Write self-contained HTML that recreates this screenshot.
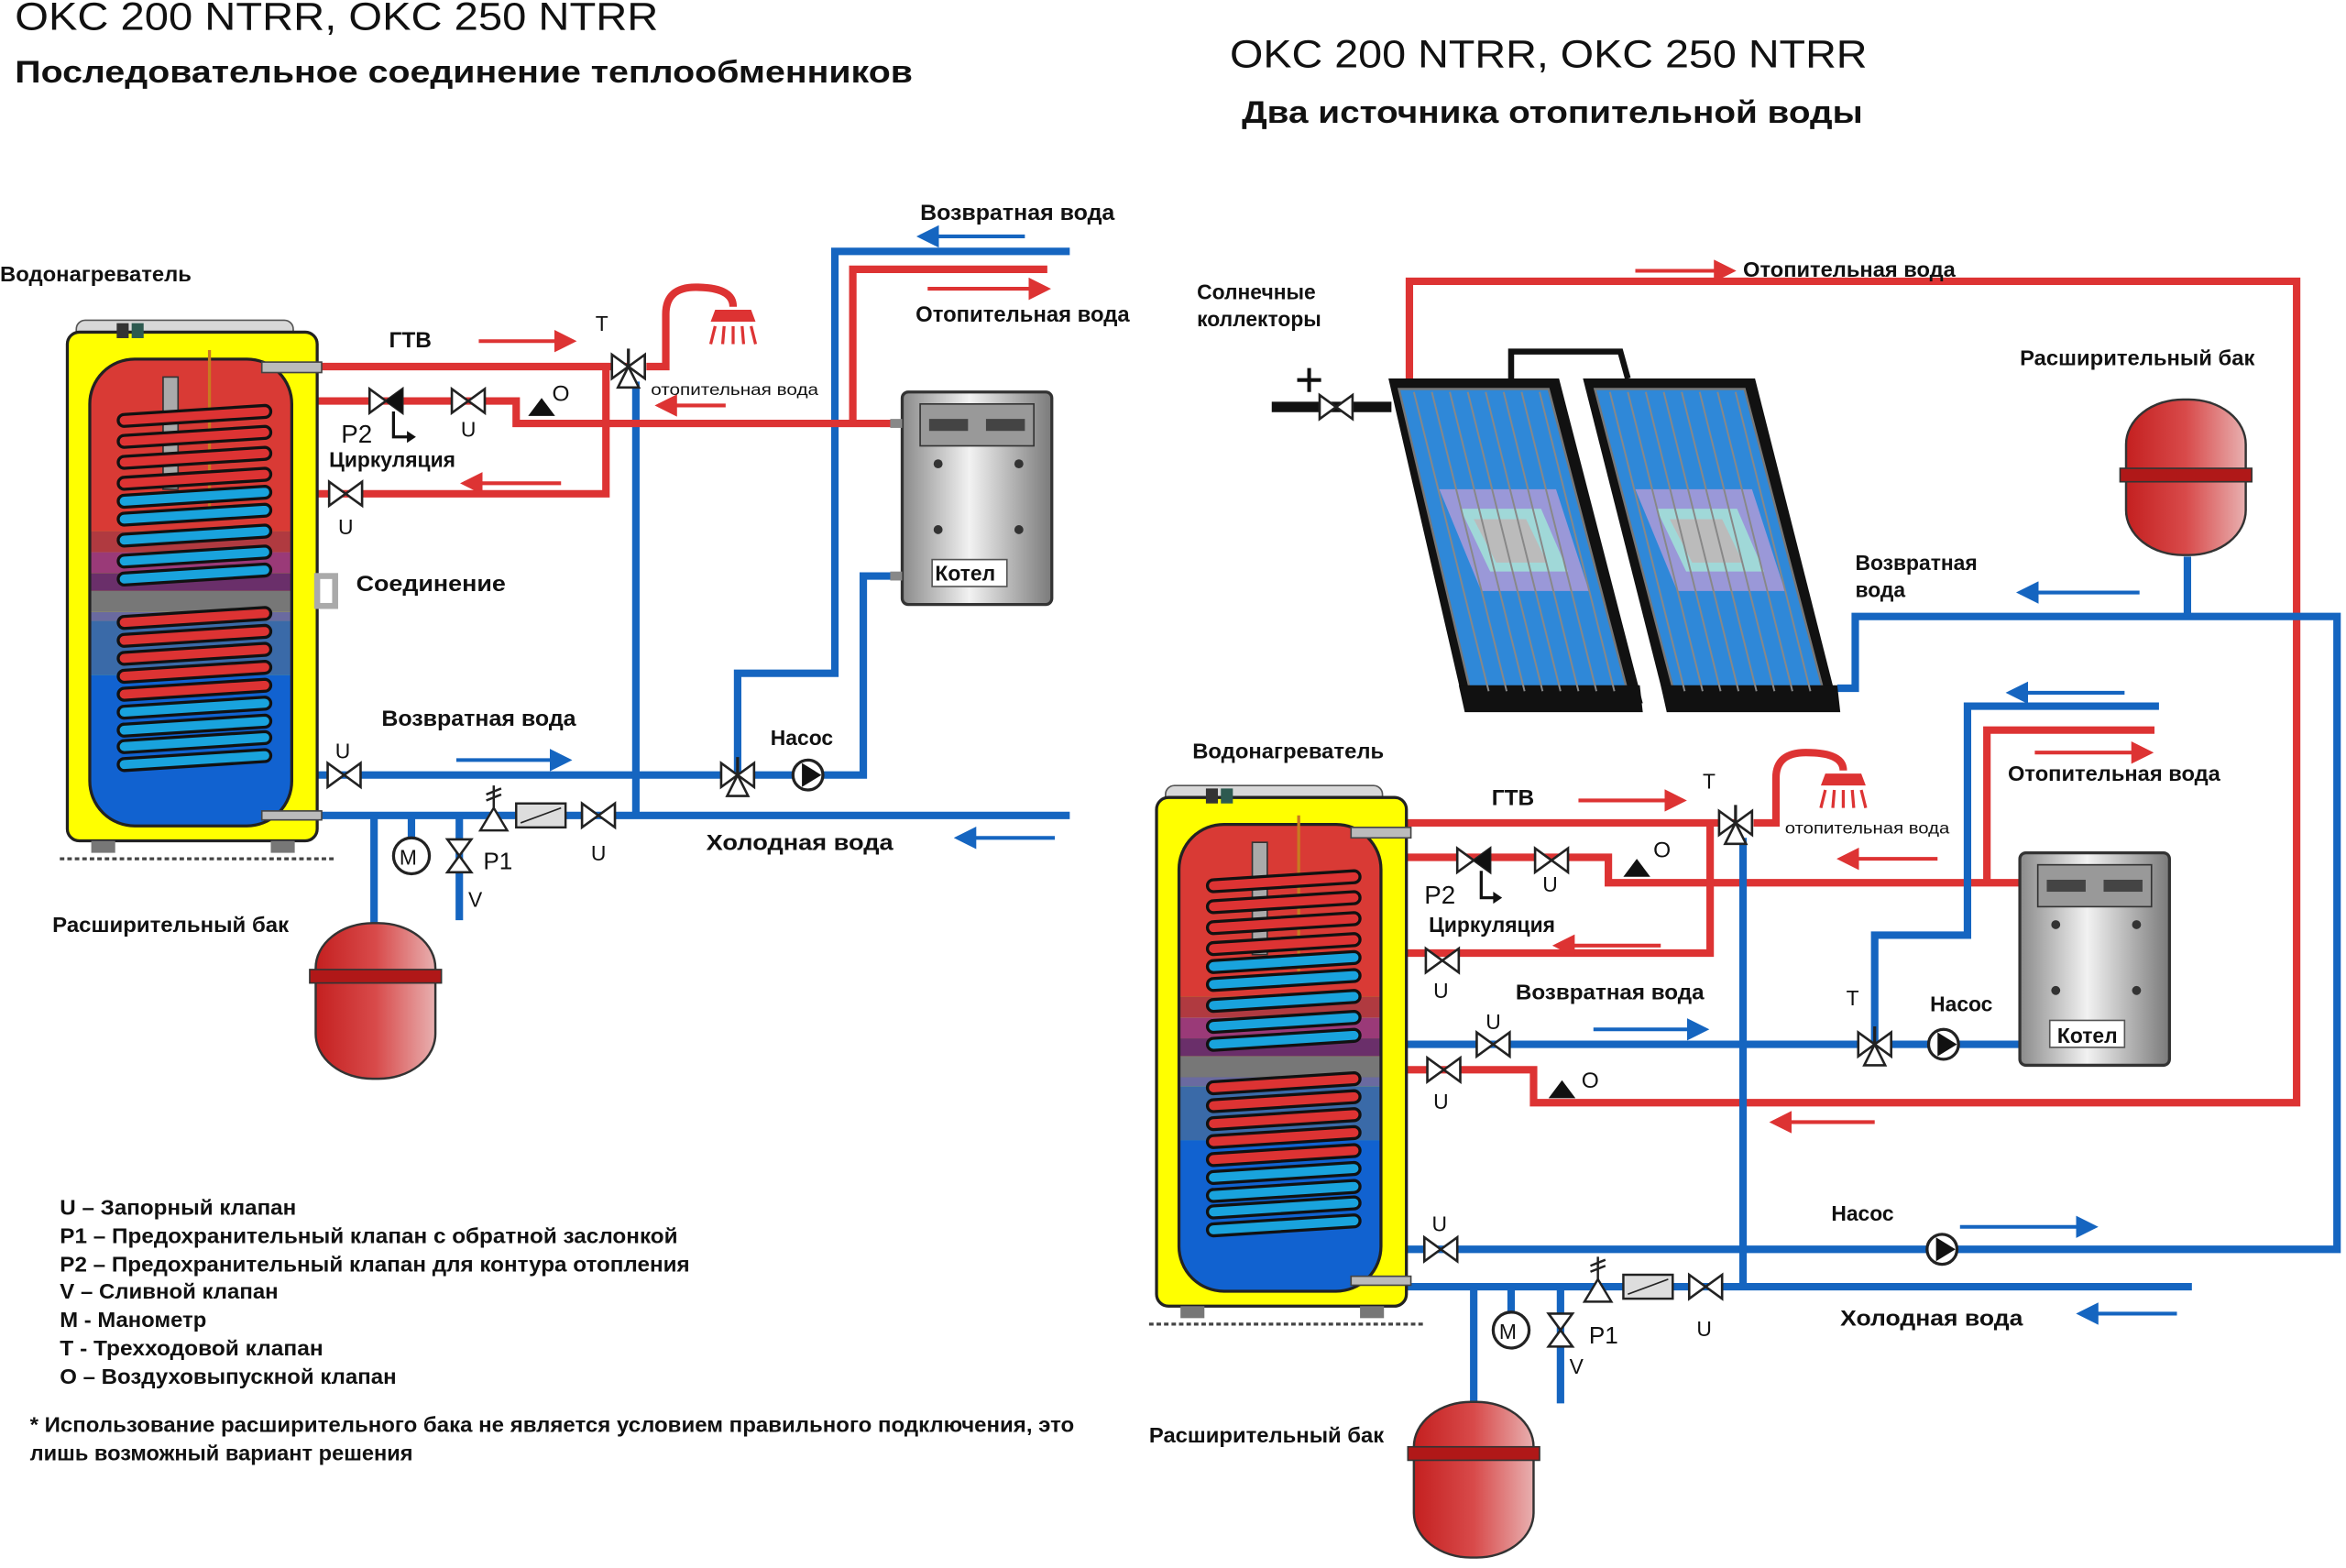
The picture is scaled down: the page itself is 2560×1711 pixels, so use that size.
<!DOCTYPE html>
<html><head><meta charset="utf-8"><style>
html,body{margin:0;padding:0;background:#fff;}
svg{display:block;}
text{font-family:"Liberation Sans",Arial,sans-serif;fill:#111;}
.b{font-weight:bold;}
</style></head><body>
<svg width="2560" height="1711" viewBox="0 0 1568 1048" preserveAspectRatio="none" xmlns="http://www.w3.org/2000/svg">
<defs>
<linearGradient id="gBoil" x1="0" x2="1"><stop offset="0" stop-color="#8a8a8a"/><stop offset="0.45" stop-color="#f2f2f2"/><stop offset="1" stop-color="#7a7a7a"/></linearGradient>
<linearGradient id="gExp" x1="0" x2="1"><stop offset="0" stop-color="#c42020"/><stop offset="0.5" stop-color="#d84a4a"/><stop offset="1" stop-color="#e8b0b0"/></linearGradient>
<clipPath id="innerClip"><rect x="15" y="18" width="135" height="312" rx="30"/></clipPath>
<path id="coilR" d="M38,0 L132,-6 a4,4 0 0 1 0,8 L38,8 a4,4 0 0 1 0,-8z" fill="#dd3333" stroke="#111" stroke-width="2"/>
<path id="coilB" d="M38,0 L132,-6 a4,4 0 0 1 0,8 L38,8 a4,4 0 0 1 0,-8z" fill="#19a3dd" stroke="#111" stroke-width="2"/>
<g id="tank">
 <rect x="6" y="-8" width="145" height="16" rx="6" fill="#d8d8d8" stroke="#555" stroke-width="1"/>
 <rect x="0" y="0" width="167" height="340" rx="8" fill="#ffff00" stroke="#222" stroke-width="2"/>
 <g clip-path="url(#innerClip)">
  <rect x="15" y="18" width="135" height="115" fill="#d93a35"/>
  <rect x="15" y="133" width="135" height="14" fill="#b03a40"/>
  <rect x="15" y="147" width="135" height="14" fill="#9a3a78"/>
  <rect x="15" y="161" width="135" height="12" fill="#6a2f6a"/>
  <rect x="15" y="173" width="135" height="14" fill="#777"/>
  <rect x="15" y="187" width="135" height="6" fill="#6a6aa0"/>
  <rect x="15" y="193" width="135" height="36" fill="#3a6aa8"/>
  <rect x="15" y="229" width="135" height="101" fill="#1162d0"/>
 </g>
 <rect x="15" y="18" width="135" height="312" rx="30" fill="none" stroke="#222" stroke-width="2"/>
 <rect x="64" y="30" width="10" height="75" fill="#aaa" stroke="#333"/>
 <line x1="95" y1="12" x2="95" y2="120" stroke="#c87a20" stroke-width="2"/>
 <rect x="33" y="-6" width="8" height="10" fill="#333"/><rect x="43" y="-6" width="8" height="10" fill="#2d5a50"/>
 <use href="#coilR" y="55"/><use href="#coilR" y="69"/><use href="#coilR" y="83"/><use href="#coilR" y="97"/>
 <use href="#coilB" y="109"/><use href="#coilB" y="121"/><use href="#coilB" y="135"/><use href="#coilB" y="149"/><use href="#coilB" y="161"/>
 <use href="#coilR" y="190"/><use href="#coilR" y="202"/><use href="#coilR" y="214"/><use href="#coilR" y="226"/><use href="#coilR" y="238"/>
 <use href="#coilB" y="250"/><use href="#coilB" y="262"/><use href="#coilB" y="273"/><use href="#coilB" y="285"/>
 <rect x="130" y="20" width="40" height="7" fill="#bbb" stroke="#444"/>
 <rect x="130" y="320" width="40" height="6" fill="#bbb" stroke="#444"/>
 <rect x="16" y="340" width="16" height="8" fill="#777"/><rect x="136" y="340" width="16" height="8" fill="#777"/>
 <line x1="-5" y1="352" x2="180" y2="352" stroke="#444" stroke-width="2" stroke-dasharray="3,2"/>
</g>
<g id="bow"><path d="M-11,-8 L11,8 L11,-8 L-11,8 Z" fill="#fff" stroke="#222" stroke-width="1.6"/></g>
<g id="bowV"><path d="M-8,-11 L8,11 L-8,11 L8,-11 Z" fill="#fff" stroke="#222" stroke-width="1.6"/></g>
<g id="pump"><circle r="10" fill="#fff" stroke="#222" stroke-width="2"/><path d="M-4,-8 L9,0 L-4,8Z" fill="#111"/></g>
<g id="valve3"><use href="#bow"/><path d="M0,0 L-7,14 L7,14Z" fill="#fff" stroke="#222" stroke-width="1.6"/><line x1="0" y1="0" x2="0" y2="-12" stroke="#222" stroke-width="2"/></g>
<g id="boiler">
 <rect x="0" y="0" width="100" height="142" rx="4" fill="url(#gBoil)" stroke="#333" stroke-width="2"/>
 <rect x="12" y="8" width="76" height="28" fill="#999" stroke="#333"/>
 <rect x="18" y="18" width="26" height="8" fill="#444"/><rect x="56" y="18" width="26" height="8" fill="#444"/>
 <circle cx="24" cy="48" r="3" fill="#333"/><circle cx="78" cy="48" r="3" fill="#333"/>
 <circle cx="24" cy="92" r="3" fill="#333"/><circle cx="78" cy="92" r="3" fill="#333"/>
 <rect x="20" y="112" width="50" height="18" fill="#fff" stroke="#555"/>
</g>
<g id="expBody">
 <rect x="0" y="0" width="80" height="104" rx="38" ry="30" fill="url(#gExp)" stroke="#333" stroke-width="1.5"/>
</g>
<g id="shower"><path d="M-15,0 L15,0 L12,-8 L-12,-8Z" fill="#dd3333"/><g stroke="#dd3333" stroke-width="2"><line x1="-12" y1="3" x2="-15" y2="15"/><line x1="-6" y1="3" x2="-7" y2="15"/><line x1="0" y1="3" x2="0" y2="15"/><line x1="6" y1="3" x2="7" y2="15"/><line x1="12" y1="3" x2="15" y2="15"/></g></g>
<marker id="aR" markerWidth="6" markerHeight="6" refX="5" refY="3" orient="auto"><path d="M0,0 L6,3 L0,6Z" fill="#dd3333"/></marker>
<marker id="aB" markerWidth="6" markerHeight="6" refX="5" refY="3" orient="auto"><path d="M0,0 L6,3 L0,6Z" fill="#1565c0"/></marker>
</defs>

<!-- ========== LEFT ========== -->
<text x="10" y="20" font-size="26" fill="#333" textLength="430" lengthAdjust="spacingAndGlyphs">OKC 200 NTRR, OKC 250 NTRR</text>
<text x="10" y="55" font-size="21" class="b" textLength="600" lengthAdjust="spacingAndGlyphs">Последовательное соединение теплообменников</text>
<text x="0" y="188" font-size="14" class="b" textLength="128" lengthAdjust="spacingAndGlyphs">Водонагреватель</text>

<g fill="none" stroke-linejoin="miter">
<g stroke="#1565c0" stroke-width="5">
 <path d="M715,168 L558,168 L558,450 L493,450 L493,518"/>
 <path d="M600,385 L577,385 L577,518 L212,518"/>
 <path d="M425,255 L425,545"/>
 <path d="M212,545 L715,545"/>
 <path d="M250,545 L250,620"/>
 <path d="M275,545 L275,560"/>
 <path d="M307,545 L307,615"/>
</g>
<g stroke="#dd3333" stroke-width="5">
 <path d="M212,245 L420,245"/>
 <path d="M432,245 L445,245 L445,210 Q445,192 465,192 Q490,192 490,205"/>
 <path d="M212,268 L345,268 L345,283 L600,283"/>
 <path d="M405,245 L405,330 L212,330"/>
 <path d="M570,283 L570,180 L700,180"/>
</g>
<g stroke-width="2.5">
 <line x1="320" y1="228" x2="383" y2="228" stroke="#dd3333" marker-end="url(#aR)"/>
 <line x1="375" y1="323" x2="310" y2="323" stroke="#dd3333" marker-end="url(#aR)"/>
 <line x1="485" y1="271" x2="440" y2="271" stroke="#dd3333" marker-end="url(#aR)"/>
 <line x1="620" y1="193" x2="700" y2="193" stroke="#dd3333" marker-end="url(#aR)"/>
 <line x1="685" y1="158" x2="615" y2="158" stroke="#1565c0" marker-end="url(#aB)"/>
 <line x1="305" y1="508" x2="380" y2="508" stroke="#1565c0" marker-end="url(#aB)"/>
 <line x1="705" y1="560" x2="640" y2="560" stroke="#1565c0" marker-end="url(#aB)"/>
</g>
</g>
<use href="#tank" x="45" y="222"/>
<rect x="212" y="385" width="12" height="20" fill="none" stroke="#aaa" stroke-width="4"/>
<use href="#shower" x="490" y="215"/>
<use href="#valve3" x="420" y="245"/>
<g transform="translate(258,268)"><path d="M-11,-8 L11,8 L11,-8 L-11,8 Z" fill="#fff" stroke="#222" stroke-width="1.6"/><path d="M0,0 L11,-8 L11,8Z" fill="#111"/></g>
<path d="M263,275 L263,292 L274,292" stroke="#111" stroke-width="2" fill="none"/><path d="M272,288 L278,292 L272,296Z" fill="#111"/>
<use href="#bow" x="313" y="268"/>
<path d="M353,278 L362,266 L371,278Z" fill="#111"/>
<use href="#bow" x="231" y="330"/>
<use href="#bow" x="230" y="518"/>
<use href="#valve3" x="493" y="518"/>
<use href="#pump" x="540" y="518"/>
<path d="M321,555 L330,540 L339,555Z" fill="#fff" stroke="#222" stroke-width="1.5"/>
<path d="M330,540 L330,525 M325,535 L335,531 M325,531 L335,527" stroke="#222" stroke-width="1.5"/>
<rect x="345" y="537" width="33" height="16" fill="#ddd" stroke="#222" stroke-width="1.5"/><line x1="348" y1="550" x2="375" y2="540" stroke="#222"/>
<use href="#bow" x="400" y="545"/>
<circle cx="275" cy="572" r="12" fill="#fff" stroke="#222" stroke-width="2"/><text x="267" y="578" font-size="14">M</text>
<use href="#bowV" x="307" y="572"/>
<use href="#boiler" x="603" y="262"/>
<text x="625" y="388" font-size="14" class="b">Котел</text>
<line x1="595" y1="283" x2="603" y2="283" stroke="#888" stroke-width="6"/>
<line x1="595" y1="385" x2="603" y2="385" stroke="#888" stroke-width="6"/>
<use href="#expBody" x="211" y="617"/>
<rect x="207" y="648" width="88" height="9" fill="#b01818" stroke="#333" stroke-width="1"/>

<text x="260" y="232" font-size="15" class="b">ГТВ</text>
<text x="398" y="221" font-size="14">T</text>
<text x="435" y="264" font-size="11" textLength="112" lengthAdjust="spacingAndGlyphs">отопительная вода</text>
<text x="369" y="268" font-size="15">O</text>
<text x="228" y="296" font-size="17">P2</text>
<text x="308" y="292" font-size="14">U</text>
<text x="220" y="312" font-size="14" class="b">Циркуляция</text>
<text x="226" y="357" font-size="14">U</text>
<text x="238" y="395" font-size="15" class="b" textLength="100" lengthAdjust="spacingAndGlyphs">Соединение</text>
<text x="255" y="485" font-size="15" class="b" textLength="130" lengthAdjust="spacingAndGlyphs">Возвратная вода</text>
<text x="224" y="507" font-size="14">U</text>
<text x="515" y="498" font-size="14" class="b">Насос</text>
<text x="472" y="568" font-size="15" class="b" textLength="125" lengthAdjust="spacingAndGlyphs">Холодная вода</text>
<text x="395" y="575" font-size="14">U</text>
<text x="323" y="581" font-size="16">P1</text>
<text x="313" y="606" font-size="14">V</text>
<text x="35" y="623" font-size="14" class="b" textLength="158" lengthAdjust="spacingAndGlyphs">Расширительный бак</text>
<text x="615" y="147" font-size="15" class="b" textLength="130" lengthAdjust="spacingAndGlyphs">Возвратная вода</text>
<text x="612" y="215" font-size="15" class="b" textLength="143" lengthAdjust="spacingAndGlyphs">Отопительная вода</text>

<g font-size="14" class="b">
<text x="40" y="812" class="b" textLength="158" lengthAdjust="spacingAndGlyphs">U – Запорный клапан</text>
<text x="40" y="831" class="b" textLength="413" lengthAdjust="spacingAndGlyphs">P1 – Предохранительный клапан с обратной заслонкой</text>
<text x="40" y="850" class="b" textLength="421" lengthAdjust="spacingAndGlyphs">P2 – Предохранительный клапан для контура отопления</text>
<text x="40" y="868" class="b" textLength="146" lengthAdjust="spacingAndGlyphs">V – Сливной клапан</text>
<text x="40" y="887" class="b" textLength="98" lengthAdjust="spacingAndGlyphs">M - Манометр</text>
<text x="40" y="906" class="b" textLength="176" lengthAdjust="spacingAndGlyphs">T - Трехходовой клапан</text>
<text x="40" y="925" class="b" textLength="225" lengthAdjust="spacingAndGlyphs">O – Воздуховыпускной клапан</text>
<text x="20" y="957" class="b" textLength="698" lengthAdjust="spacingAndGlyphs">* Использование расширительного бака не является условием правильного подключения, это</text>
<text x="20" y="976" class="b" textLength="256" lengthAdjust="spacingAndGlyphs">лишь возможный вариант решения</text>
</g>

<!-- ========== RIGHT ========== -->
<text x="822" y="45" font-size="26" fill="#333" textLength="426" lengthAdjust="spacingAndGlyphs">OKC 200 NTRR, OKC 250 NTRR</text>
<text x="830" y="82" font-size="21" class="b" textLength="415" lengthAdjust="spacingAndGlyphs">Два источника отопительной воды</text>
<text x="800" y="200" font-size="14" class="b">Солнечные</text>
<text x="800" y="218" font-size="14" class="b">коллекторы</text>

<g fill="none">
<g stroke="#dd3333" stroke-width="5">
 <path d="M942,253 L942,188 L1535,188 L1535,737 L1025,737 L1025,715 L940,715"/>
 <path d="M940,550 L1160,550"/>
 <path d="M1172,550 L1187,550 L1187,520 Q1187,503 1207,503 Q1232,503 1232,515"/>
 <path d="M940,573 L1075,573 L1075,590 L1350,590"/>
 <path d="M1328,590 L1328,488 L1440,488"/>
 <path d="M1143,550 L1143,637 L940,637"/>
</g>
<g stroke="#1565c0" stroke-width="5">
 <path d="M1228,460 L1240,460 L1240,412 L1562,412 L1562,835 L940,835"/>
 <path d="M1462,372 L1462,412"/>
 <path d="M940,698 L1350,698"/>
 <path d="M1253,698 L1253,625 L1315,625 L1315,472 L1443,472"/>
 <path d="M1165,560 L1165,860"/>
 <path d="M940,860 L1465,860"/>
 <path d="M985,860 L985,940"/>
 <path d="M1010,860 L1010,877"/>
 <path d="M1043,860 L1043,938"/>
</g>
<path d="M850,272 L930,272" stroke="#111" stroke-width="7"/>
<g stroke-width="2.5">
 <line x1="1093" y1="181" x2="1158" y2="181" stroke="#dd3333" marker-end="url(#aR)"/>
 <line x1="1055" y1="535" x2="1125" y2="535" stroke="#dd3333" marker-end="url(#aR)"/>
 <line x1="1110" y1="632" x2="1040" y2="632" stroke="#dd3333" marker-end="url(#aR)"/>
 <line x1="1295" y1="574" x2="1230" y2="574" stroke="#dd3333" marker-end="url(#aR)"/>
 <line x1="1360" y1="503" x2="1437" y2="503" stroke="#dd3333" marker-end="url(#aR)"/>
 <line x1="1253" y1="750" x2="1185" y2="750" stroke="#dd3333" marker-end="url(#aR)"/>
 <line x1="1430" y1="396" x2="1350" y2="396" stroke="#1565c0" marker-end="url(#aB)"/>
 <line x1="1420" y1="463" x2="1343" y2="463" stroke="#1565c0" marker-end="url(#aB)"/>
 <line x1="1065" y1="688" x2="1140" y2="688" stroke="#1565c0" marker-end="url(#aB)"/>
 <line x1="1310" y1="820" x2="1400" y2="820" stroke="#1565c0" marker-end="url(#aB)"/>
 <line x1="1455" y1="878" x2="1390" y2="878" stroke="#1565c0" marker-end="url(#aB)"/>
</g>
</g>

<path d="M1010,253 L1010,235 L1083,235 L1088,253" fill="none" stroke="#111" stroke-width="4"/>
<g>
 <path d="M928,253 L1042,253 L1098,470 L978,470 Z" fill="#111"/>
 <path d="M935,260 L1035,260 L1088,463 L983,463 Z" fill="#2f88d8" stroke="#777" stroke-width="1.5"/>
 <path d="M962,327 L1040,327 L1062,395 L990,395 Z" fill="#9a98d8"/>
 <path d="M976,340 L1030,340 L1048,382 L996,382 Z" fill="#a0d8d8"/>
 <path d="M985,347 L1020,347 L1034,376 L1000,376 Z" fill="#bbb"/>
 <path d="M975,458 L1096,458 L1098,476 L979,476 Z" fill="#111"/>
 <g stroke="#888" stroke-width="1.2"><line x1="945" y1="262" x2="995" y2="462"/><line x1="957" y1="262" x2="1007" y2="462"/><line x1="969" y1="262" x2="1019" y2="462"/><line x1="981" y1="262" x2="1031" y2="462"/><line x1="993" y1="262" x2="1043" y2="462"/><line x1="1005" y1="262" x2="1055" y2="462"/><line x1="1017" y1="262" x2="1067" y2="462"/><line x1="1029" y1="262" x2="1079" y2="462"/></g>
</g>
<g>
 <path d="M1058,253 L1173,253 L1228,470 L1113,470 Z" fill="#111"/>
 <path d="M1066,260 L1166,260 L1219,463 L1119,463 Z" fill="#2f88d8" stroke="#777" stroke-width="1.5"/>
 <path d="M1093,327 L1171,327 L1193,395 L1121,395 Z" fill="#9a98d8"/>
 <path d="M1107,340 L1161,340 L1179,382 L1127,382 Z" fill="#a0d8d8"/>
 <path d="M1116,347 L1151,347 L1165,376 L1131,376 Z" fill="#bbb"/>
 <path d="M1110,458 L1228,458 L1230,476 L1114,476 Z" fill="#111"/>
 <g stroke="#888" stroke-width="1.2"><line x1="1076" y1="262" x2="1126" y2="462"/><line x1="1088" y1="262" x2="1138" y2="462"/><line x1="1100" y1="262" x2="1150" y2="462"/><line x1="1112" y1="262" x2="1162" y2="462"/><line x1="1124" y1="262" x2="1174" y2="462"/><line x1="1136" y1="262" x2="1186" y2="462"/><line x1="1148" y1="262" x2="1198" y2="462"/><line x1="1160" y1="262" x2="1210" y2="462"/></g>
</g>
<use href="#bow" x="893" y="272"/>
<path d="M875,262 L875,246 M867,254 L883,254" stroke="#111" stroke-width="2.5"/>

<use href="#expBody" x="1421" y="267"/>
<rect x="1417" y="313" width="88" height="9" fill="#b01818" stroke="#333" stroke-width="1"/>
<use href="#tank" x="773" y="533"/>
<use href="#shower" x="1232" y="525"/>
<use href="#valve3" x="1160" y="550"/>
<g transform="translate(985,575)"><path d="M-11,-8 L11,8 L11,-8 L-11,8 Z" fill="#fff" stroke="#222" stroke-width="1.6"/><path d="M0,0 L11,-8 L11,8Z" fill="#111"/></g>
<path d="M990,582 L990,600 L1000,600" stroke="#111" stroke-width="2" fill="none"/><path d="M998,596 L1004,600 L998,604Z" fill="#111"/>
<use href="#bow" x="1037" y="575"/>
<path d="M1085,586 L1094,574 L1103,586Z" fill="#111"/>
<use href="#bow" x="964" y="642"/>
<use href="#bow" x="998" y="698"/>
<use href="#bow" x="965" y="715"/>
<path d="M1035,734 L1044,722 L1053,734Z" fill="#111"/>
<use href="#valve3" x="1253" y="698"/>
<use href="#pump" x="1299" y="698"/>
<use href="#boiler" x="1350" y="570"/>
<text x="1375" y="697" font-size="14" class="b">Котел</text>
<use href="#bow" x="963" y="835"/>
<use href="#pump" x="1298" y="835"/>
<path d="M1059,870 L1068,855 L1077,870Z" fill="#fff" stroke="#222" stroke-width="1.5"/>
<path d="M1068,855 L1068,840 M1063,850 L1073,846 M1063,846 L1073,842" stroke="#222" stroke-width="1.5"/>
<rect x="1085" y="852" width="33" height="16" fill="#ddd" stroke="#222" stroke-width="1.5"/><line x1="1088" y1="865" x2="1115" y2="855" stroke="#222"/>
<use href="#bow" x="1140" y="860"/>
<circle cx="1010" cy="889" r="12" fill="#fff" stroke="#222" stroke-width="2"/><text x="1002" y="895" font-size="14">M</text>
<use href="#bowV" x="1043" y="889"/>
<use href="#expBody" x="945" y="937"/>
<rect x="941" y="967" width="88" height="9" fill="#b01818" stroke="#333" stroke-width="1"/>

<text x="1165" y="185" font-size="14" class="b" textLength="142" lengthAdjust="spacingAndGlyphs">Отопительная вода</text>
<text x="1350" y="244" font-size="14" class="b" textLength="157" lengthAdjust="spacingAndGlyphs">Расширительный бак</text>
<text x="1240" y="381" font-size="14" class="b">Возвратная</text>
<text x="1240" y="399" font-size="14" class="b">вода</text>
<text x="1342" y="522" font-size="14" class="b" textLength="142" lengthAdjust="spacingAndGlyphs">Отопительная вода</text>
<text x="797" y="507" font-size="14" class="b" textLength="128" lengthAdjust="spacingAndGlyphs">Водонагреватель</text>
<text x="997" y="538" font-size="15" class="b">ГТВ</text>
<text x="1138" y="527" font-size="14">T</text>
<text x="1193" y="557" font-size="11" textLength="110" lengthAdjust="spacingAndGlyphs">отопительная вода</text>
<text x="1105" y="573" font-size="15">O</text>
<text x="952" y="604" font-size="17">P2</text>
<text x="1031" y="596" font-size="14">U</text>
<text x="955" y="623" font-size="14" class="b">Циркуляция</text>
<text x="958" y="667" font-size="14">U</text>
<text x="1013" y="668" font-size="14" class="b" textLength="126" lengthAdjust="spacingAndGlyphs">Возвратная вода</text>
<text x="993" y="688" font-size="14">U</text>
<text x="958" y="741" font-size="14">U</text>
<text x="1057" y="727" font-size="15">O</text>
<text x="1234" y="672" font-size="14">T</text>
<text x="1290" y="676" font-size="14" class="b">Насос</text>
<text x="957" y="823" font-size="14">U</text>
<text x="1224" y="816" font-size="14" class="b">Насос</text>
<text x="1230" y="886" font-size="15" class="b" textLength="122" lengthAdjust="spacingAndGlyphs">Холодная вода</text>
<text x="1134" y="893" font-size="14">U</text>
<text x="1062" y="898" font-size="16">P1</text>
<text x="1049" y="918" font-size="14">V</text>
<text x="768" y="964" font-size="14" class="b" textLength="157" lengthAdjust="spacingAndGlyphs">Расширительный бак</text>
</svg>
</body></html>
